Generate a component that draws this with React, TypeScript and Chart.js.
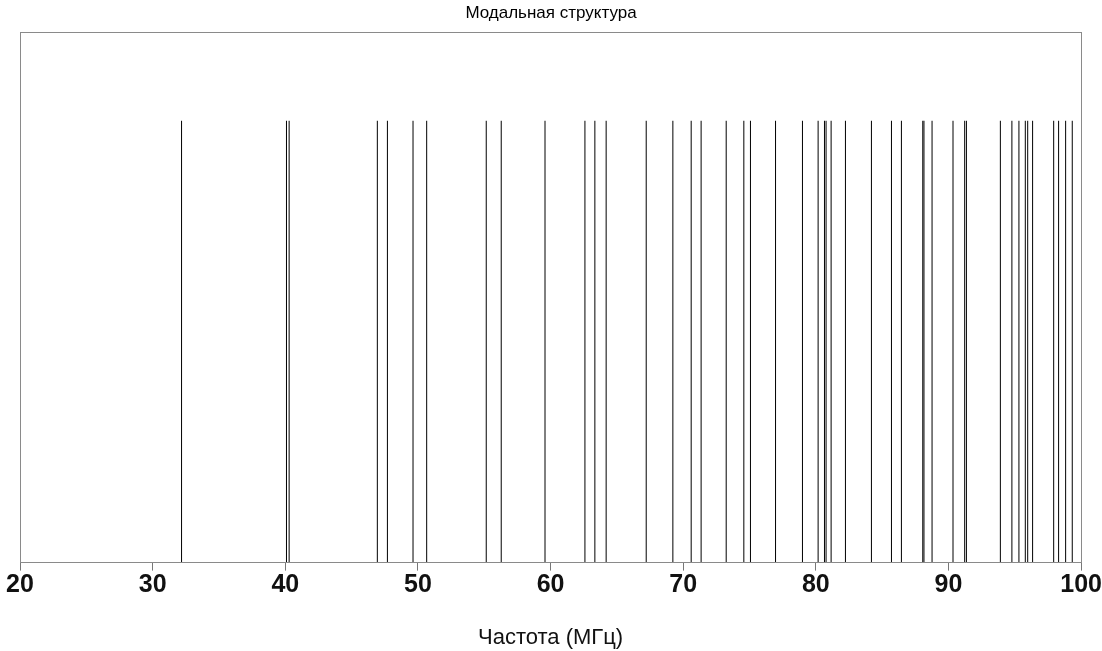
import React, { useEffect, useRef } from "react";
import { Chart, registerables } from "chart.js";

Chart.register(...registerables);

const chartTitle = "Модальная структура";
const xAxisTitle = "Частота (МГц)";
const xMin = 20;
const xMax = 100;
const xStep = 10;
const modeAmplitude = 1;
const yMax = 1.2;

// Natural frequencies (MHz) of the modes
const modeFrequencies = [
  32.18, 40.09, 40.29, 46.94, 47.7, 49.63, 50.66, 55.15, 56.28, 59.58,
  62.59, 63.34, 64.19, 67.21, 69.22, 70.6, 71.35, 73.24, 74.57, 75.07,
  76.96, 78.99, 80.17, 80.65, 80.77, 81.15, 82.23, 84.19, 85.7, 86.45,
  88.06, 88.15, 88.76, 90.34, 91.22, 91.35, 93.91, 94.78, 95.31, 95.79,
  95.97, 96.34, 97.93, 98.3, 98.83, 99.33,
];

const frameBox = {
  id: "frameBox",
  afterDraw(chart: any) {
    const { ctx, chartArea } = chart;
    ctx.save();
    ctx.strokeStyle = "#8a8a8a";
    ctx.lineWidth = 1;
    ctx.strokeRect(
      Math.round(chartArea.left) + 0.5,
      Math.round(chartArea.top) + 0.5,
      Math.round(chartArea.right - chartArea.left),
      Math.round(chartArea.bottom - chartArea.top)
    );
    ctx.restore();
  },
};

export default function App() {
  const canvasRef = useRef<HTMLCanvasElement | null>(null);

  useEffect(() => {
    if (!canvasRef.current) return;
    const points: any[] = [];
    modeFrequencies.forEach((f) => {
      points.push({ x: f, y: 0 });
      points.push({ x: f, y: modeAmplitude });
      points.push({ x: f, y: null });
    });
    const chart = new Chart(canvasRef.current, {
      type: "scatter",
      data: {
        datasets: [
          {
            data: points,
            showLine: true,
            spanGaps: false,
            borderColor: "#000000",
            borderWidth: 1,
            pointRadius: 0,
          },
        ],
      },
      options: {
        animation: false,
        responsive: false,
        layout: { padding: { left: 20, right: 20, top: 0, bottom: 0 } },
        plugins: {
          legend: { display: false },
          tooltip: { enabled: false },
          title: {
            display: true,
            text: chartTitle,
            color: "#000000",
            font: { family: "'Liberation Sans', Arial, sans-serif", size: 17, weight: "normal" },
            padding: { top: 3, bottom: 9 },
          },
        },
        scales: {
          x: {
            type: "linear",
            min: xMin,
            max: xMax,
            ticks: {
              stepSize: xStep,
              color: "#111111",
              padding: 0,
              font: { family: "'Liberation Sans', Arial, sans-serif", size: 25, weight: "bold" },
            },
            grid: {
              display: true,
              drawOnChartArea: false,
              drawTicks: true,
              tickLength: 8,
              color: "#777777",
            },
            border: { display: true, color: "#555555" },
            title: {
              display: true,
              text: xAxisTitle,
              color: "#111111",
              font: { family: "'Liberation Sans', Arial, sans-serif", size: 22 },
              padding: { top: 24, bottom: 0 },
            },
          },
          y: {
            display: false,
            min: 0,
            max: yMax,
          },
        },
      },
      plugins: [frameBox],
    });
    return () => chart.destroy();
  }, []);

  return (
    <div style={{ position: "absolute", left: 0, top: 0, width: 1102, height: 651, background: "#ffffff" }}>
      <canvas ref={canvasRef} width={1102} height={651} style={{ width: 1102, height: 651 }} />
    </div>
  );
}
